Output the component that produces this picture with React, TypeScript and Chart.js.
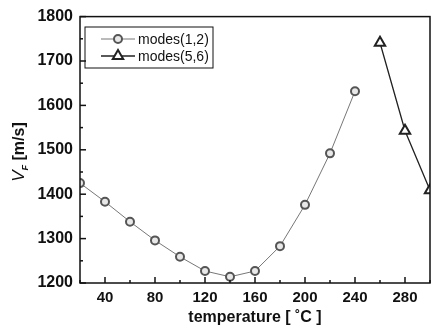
import React, { useEffect, useRef } from "react";
import { Chart, registerables } from "chart.js";

Chart.register(...registerables);

const temps12 = [20, 40, 60, 80, 100, 120, 140, 160, 180, 200, 220, 240];
const modes12 = [1425, 1383, 1338, 1296, 1259, 1227, 1214, 1227, 1283, 1376, 1492, 1632];
const temps56 = [260, 280, 300];
const modes56 = [1741, 1543, 1409];
const xTickValues = [40, 80, 120, 160, 200, 240, 280];
const yTickValues = [1200, 1300, 1400, 1500, 1600, 1700, 1800];
const seriesNames = ["modes(1,2)", "modes(5,6)"];
const xTitle = "temperature [ \u02DAC ]";

const FONT = "'Liberation Sans', Arial, sans-serif";

const framePlugin = {
  id: "frameTicks",
  afterDatasetsDraw(chart: any) {
    const { ctx, chartArea: a, scales } = chart;
    const xs = scales.x;
    const ys = scales.y;
    ctx.save();
    ctx.strokeStyle = "#111";
    ctx.lineWidth = 1.5;
    ctx.strokeRect(a.left, a.top, a.right - a.left, a.bottom - a.top);
    ctx.lineWidth = 1.5;
    for (let v = xs.min; v <= xs.max; v += 20) {
      const px = xs.getPixelForValue(v);
      const major = xTickValues.includes(v);
      ctx.beginPath();
      ctx.moveTo(px, a.bottom);
      ctx.lineTo(px, a.bottom - (major ? 6 : 3));
      ctx.stroke();
    }
    for (let v = ys.min; v <= ys.max; v += 50) {
      const py = ys.getPixelForValue(v);
      const major = yTickValues.includes(v);
      ctx.beginPath();
      ctx.moveTo(a.left, py);
      ctx.lineTo(a.left + (major ? 6 : 3), py);
      ctx.stroke();
    }
    // y title
    ctx.fillStyle = "#111";
    ctx.translate(24, 152);
    ctx.rotate(-Math.PI / 2);
    ctx.textBaseline = "alphabetic";
    ctx.textAlign = "left";
    const p1 = "italic 17px " + FONT;
    const p2 = "italic bold 9px " + FONT;
    const p3 = "bold 16px " + FONT;
    ctx.font = p1;
    const w1 = ctx.measureText("V").width;
    ctx.font = p2;
    const w2 = ctx.measureText("F").width;
    ctx.font = p3;
    const w3 = ctx.measureText(" [m/s]").width;
    const total = w1 + w2 + w3;
    let x = -total / 2;
    ctx.font = p1;
    ctx.fillText("V", x, 0);
    x += w1;
    ctx.font = p2;
    ctx.fillText("F", x, 4);
    x += w2;
    ctx.font = p3;
    ctx.fillText(" [m/s]", x, 0);
    ctx.restore();

    // legend
    ctx.save();
    const lx = 85, ly = 27, lw = 128, lh = 41;
    ctx.strokeStyle = "#111";
    ctx.lineWidth = 1;
    ctx.strokeRect(lx, ly, lw, lh);
    ctx.font = "14px " + FONT;
    ctx.textBaseline = "middle";
    ctx.fillStyle = "#111";
    const rows = [ly + 12, ly + 29];
    chart.data.datasets.forEach((ds: any, i: number) => {
      const yy = rows[i];
      ctx.strokeStyle = ds.borderColor;
      ctx.lineWidth = ds.borderWidth;
      ctx.beginPath();
      ctx.moveTo(lx + 16, yy);
      ctx.lineTo(lx + 50, yy);
      ctx.stroke();
      ctx.lineWidth = ds.pointBorderWidth;
      ctx.strokeStyle = ds.pointBorderColor;
      ctx.fillStyle = ds.pointBackgroundColor;
      ctx.beginPath();
      if (ds.pointStyle === "triangle") {
        const r = ds.pointRadius;
        ctx.moveTo(lx + 33, yy - r);
        ctx.lineTo(lx + 33 + r * 0.87, yy + r * 0.5);
        ctx.lineTo(lx + 33 - r * 0.87, yy + r * 0.5);
        ctx.closePath();
      } else {
        ctx.arc(lx + 33, yy, ds.pointRadius, 0, Math.PI * 2);
      }
      ctx.fill();
      ctx.stroke();
      ctx.fillStyle = "#111";
      ctx.fillText(ds.label, lx + 53, yy + 1);
    });
    ctx.restore();
  },
};

export default function App() {
  const ref = useRef<HTMLCanvasElement | null>(null);
  useEffect(() => {
    document.body.style.margin = "0";
    const chart = new Chart(ref.current as HTMLCanvasElement, {
      type: "scatter",
      data: {
        datasets: [
          {
            label: seriesNames[0],
            data: temps12.map((t, i) => ({ x: t, y: modes12[i] })),
            showLine: true,
            borderColor: "#777",
            borderWidth: 1,
            pointStyle: "circle",
            pointRadius: 4,
            pointBorderWidth: 2,
            pointBorderColor: "#555",
            pointBackgroundColor: "#e8e8e8",
          },
          {
            label: seriesNames[1],
            data: temps56.map((t, i) => ({ x: t, y: modes56[i] })),
            showLine: true,
            borderColor: "#222",
            borderWidth: 1.3,
            pointStyle: "triangle",
            pointRadius: 6,
            pointBorderWidth: 2,
            pointBorderColor: "#222",
            pointBackgroundColor: "#fff",
          },
        ] as any,
      },
      options: {
        animation: false,
        responsive: true,
        maintainAspectRatio: false,
        layout: { padding: { top: 14, right: 7, left: 0, bottom: 0 } },
        plugins: { legend: { display: false }, tooltip: { enabled: false } },
        scales: {
          x: {
            type: "linear",
            min: 20,
            max: 300,
            afterBuildTicks: (s: any) => {
              s.ticks = xTickValues.map((v) => ({ value: v }));
            },
            afterFit: (s: any) => {
              s.height = 44;
            },
            grid: { display: false, drawTicks: false },
            border: { display: false },
            ticks: {
              autoSkip: false,
              maxRotation: 0,
              padding: 6,
              color: "#111",
              callback: (v: any) => String(v),
              font: { family: FONT, size: 15, weight: "bold" },
            },
            title: {
              display: true,
              text: xTitle,
              color: "#111",
              padding: { top: 0, bottom: 0 },
              font: { family: FONT, size: 16, weight: "bold" },
            },
          },
          y: {
            type: "linear",
            min: 1200,
            max: 1800,
            afterBuildTicks: (s: any) => {
              s.ticks = yTickValues.map((v) => ({ value: v }));
            },
            afterFit: (s: any) => {
              s.width = 80;
            },
            grid: { display: false, drawTicks: false },
            border: { display: false },
            ticks: {
              padding: 7,
              color: "#111",
              callback: (v: any) => String(v),
              font: { family: FONT, size: 16, weight: "bold" },
            },
          },
        },
      } as any,
      plugins: [framePlugin],
    });
    return () => chart.destroy();
  }, []);
  return (
    <div style={{ position: "fixed", left: 0, top: 0, width: 438, height: 327, background: "#fff" }}>
      <canvas ref={ref} />
    </div>
  );
}
